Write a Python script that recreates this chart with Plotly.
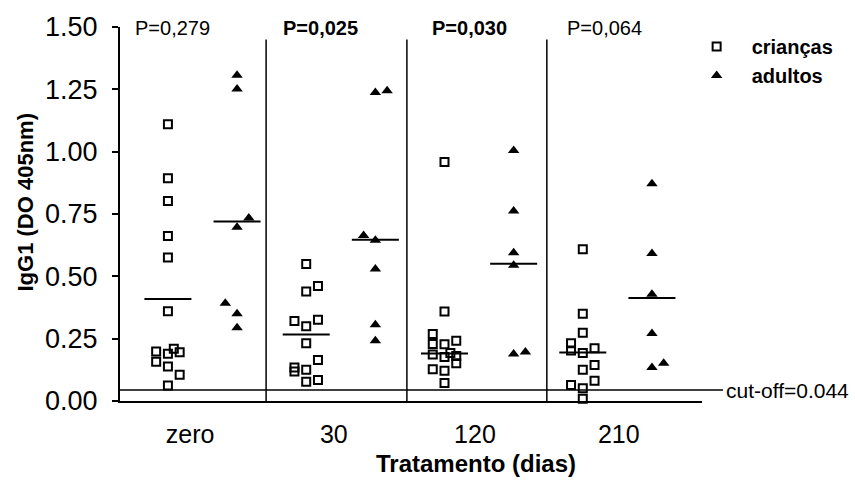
import plotly.graph_objects as go

# ---------------- data ----------------
groups = ["zero", "30", "120", "210"]
p_labels = ["P=0,279", "P=0,025", "P=0,030", "P=0,064"]
p_bold = [False, True, True, False]

criancas_vals = [
    [1.110, 0.893, 0.802, 0.662, 0.576, 0.360, 0.199, 0.190, 0.210, 0.196, 0.157, 0.138, 0.105, 0.062],
    [0.549, 0.461, 0.439, 0.321, 0.326, 0.300, 0.232, 0.164, 0.134, 0.118, 0.125, 0.077, 0.084],
    [0.959, 0.359, 0.269, 0.229, 0.228, 0.242, 0.186, 0.193, 0.176, 0.180, 0.151, 0.127, 0.121, 0.072],
    [0.609, 0.350, 0.274, 0.232, 0.203, 0.212, 0.193, 0.144, 0.125, 0.081, 0.064, 0.051, 0.009],
]
adultos_vals = [
    [1.306, 1.251, 0.734, 0.697, 0.392, 0.350, 0.294],
    [1.237, 1.244, 0.664, 0.645, 0.529, 0.306, 0.242],
    [1.005, 0.762, 0.595, 0.544, 0.189, 0.197],
    [0.871, 0.592, 0.428, 0.271, 0.134, 0.151],
]
criancas_line = [0.409, 0.267, 0.191, 0.195]
adultos_line = [0.720, 0.647, 0.550, 0.413]
cutoff = 0.044

# ---------------- layout helpers (scatter column slots, positions) ----------------
criancas_slot = [
    [0, 0, 0, 0, 0, 0, -1, 0, 0.5, 1, -1, 0, 1, 0],
    [0, 1, 0, -1, 1, 0, 0, 1, -1, -1, 0, 0, 1],
    [0, 0, -1, -1, 0, 1, -1, 0.5, 0, 1, 1, -1, 0, 0],
    [0, 0, 0, -1, -1, 1, 0, 1, 0, 1, -1, 0, 0],
]
adultos_slot = [
    [0, 0, 1, 0, -1, 0, 0],
    [0, 1, -1, 0, 0, 0, 0],
    [0, 0, 0, 0, 0, 1],
    [0, 0, 0, 0, 0, 1],
]
OFFSET = 0.25
SLOT_W = 0.085
HALF = 0.17
XRANGE = [-0.5965, 3.612]
sep_x = [0.46, 1.478, 2.49]
tick_x = [-0.09, 0.95, 1.97, 3.01]
p_x = [-0.22, 0.85, 1.934, 2.91]

FONT = "Liberation Sans, Arial, sans-serif"

def xs(slots, g, off):
    return [g + off + s * SLOT_W for s in slots[g]]

cx, cy, ax, ay = [], [], [], []
for g in range(len(groups)):
    cx += xs(criancas_slot, g, -OFFSET)
    cy += criancas_vals[g]
    ax += xs(adultos_slot, g, OFFSET)
    ay += adultos_vals[g]

lx, ly = [], []
for g in range(len(groups)):
    for off, v in ((-OFFSET, criancas_line[g]), (OFFSET, adultos_line[g])):
        lx += [g + off - HALF, g + off + HALF, None]
        ly += [v, v, None]

fig = go.Figure()
fig.add_trace(go.Scatter(x=lx, y=ly, mode="lines", line=dict(color="black", width=2),
                         showlegend=False, hoverinfo="skip", cliponaxis=False))
fig.add_trace(go.Scatter(x=cx, y=cy, mode="markers", name="crianças",
                         marker=dict(symbol="square-open", size=8, color="black",
                                     line=dict(width=2, color="black")),
                         cliponaxis=False))
fig.add_trace(go.Scatter(x=ax, y=ay, mode="markers", name="adultos",
                         marker=dict(symbol="triangle-up", size=10, color="black"),
                         cliponaxis=False))

shapes = []
for sx in sep_x:
    shapes.append(dict(type="line", xref="x", yref="y", x0=sx, x1=sx, y0=0, y1=1.45,
                       line=dict(color="black", width=1.5)))
shapes.append(dict(type="line", xref="paper", yref="y", x0=0, x1=1.036, y0=cutoff, y1=cutoff,
                   line=dict(color="black", width=1.5)))

annotations = []
for px, txt, b in zip(p_x, p_labels, p_bold):
    annotations.append(dict(x=px, y=0.997, xref="x", yref="paper", text=f"<b>{txt}</b>" if b else txt,
                            showarrow=False, xanchor="center", yanchor="middle",
                            font=dict(family=FONT, size=20, color="black")))
annotations.append(dict(x=1.038, y=cutoff, xref="paper", yref="y", text=f"cut-off={cutoff}",
                        showarrow=False, xanchor="left", yanchor="middle",
                        font=dict(family=FONT, size=21, color="black")))
annotations.append(dict(x=0.612, y=-0.168, xref="paper", yref="paper", text="<b>Tratamento (dias)</b>",
                        showarrow=False, xanchor="center", yanchor="middle",
                        font=dict(family=FONT, size=24, color="black")))
annotations.append(dict(x=-0.162, y=0.53, xref="paper", yref="paper", text="<b>IgG1 (DO 405nm)</b>",
                        textangle=-90, showarrow=False, xanchor="center", yanchor="middle",
                        font=dict(family=FONT, size=22, color="black")))

fig.update_layout(
    width=855, height=487,
    margin=dict(l=120, r=153, t=19, b=86),
    paper_bgcolor="white", plot_bgcolor="white",
    font=dict(family=FONT, color="black"),
    shapes=shapes, annotations=annotations,
    legend=dict(x=0.965, y=1.0, xanchor="left", yanchor="top",
                font=dict(family=FONT, size=20, color="black", weight="bold"),
                bgcolor="rgba(0,0,0,0)", itemwidth=60, tracegroupgap=0),
)
fig.update_xaxes(range=XRANGE, showgrid=False, zeroline=False, showline=True, linecolor="black",
                 linewidth=2, tickmode="array", tickvals=tick_x, ticktext=groups, ticks="",
                 ticklabelstandoff=10, tickfont=dict(family=FONT, size=25, color="black"))
fig.update_yaxes(range=[0, 1.5], showgrid=False, zeroline=False, showline=True, linecolor="black",
                 linewidth=2, tickmode="array", tickvals=[0, 0.25, 0.5, 0.75, 1.0, 1.25, 1.5],
                 tickformat=".2f", ticks="outside", ticklen=6, tickwidth=1.5, tickcolor="black",
                 ticklabelstandoff=9, tickfont=dict(family=FONT, size=27, color="black"))

fig.write_html("out.html")
